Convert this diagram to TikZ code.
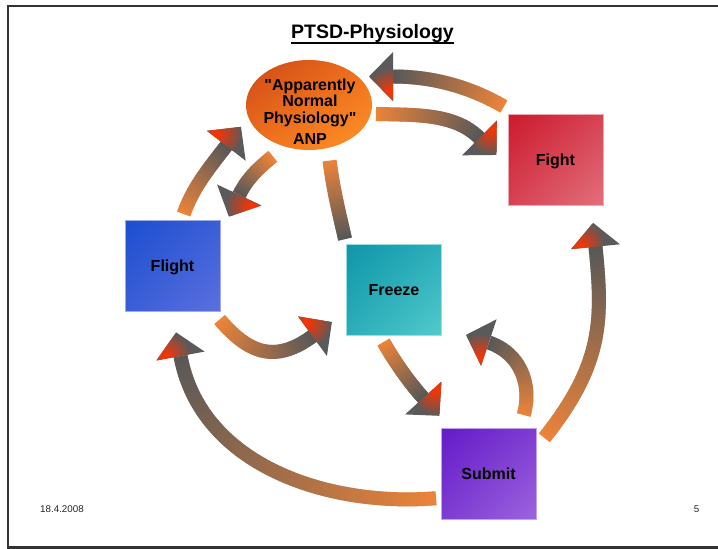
\documentclass[tikz,border=0pt]{standalone}
\usepackage{fontspec}
\setmainfont{Liberation Sans}
\usetikzlibrary{shapes.geometric,decorations.markings,shadings}

% arrow colours
\definecolor{shafto}{RGB}{236,132,58}
\definecolor{shaftg}{RGB}{88,88,88}
\definecolor{headg}{RGB}{90,90,90}
\definecolor{headr}{RGB}{255,50,0}
\definecolor{framegray}{RGB}{51,51,51}
% state colours: dark corner, middle, light corner
\definecolor{flightA}{RGB}{28,78,208}
\definecolor{flightB}{RGB}{58,94,214}
\definecolor{flightC}{RGB}{92,112,222}
\definecolor{freezeA}{RGB}{14,150,168}
\definecolor{freezeB}{RGB}{44,174,186}
\definecolor{freezeC}{RGB}{82,202,204}
\definecolor{fightA}{RGB}{204,26,44}
\definecolor{fightB}{RGB}{214,66,84}
\definecolor{fightC}{RGB}{226,112,122}
\definecolor{submitA}{RGB}{100,26,200}
\definecolor{submitB}{RGB}{126,60,210}
\definecolor{submitC}{RGB}{156,100,222}
\definecolor{anpA}{RGB}{204,72,20}
\definecolor{anpB}{RGB}{240,112,30}
\definecolor{anpC}{RGB}{255,148,38}

\begin{document}
\begin{tikzpicture}[x=1pt,y=-1pt,
  statebox/.style={rectangle, minimum width=95pt, minimum height=91pt,
    inner sep=0pt, outer sep=0pt, font=\bfseries\fontsize{16}{16}\selectfont,
    text height=11.5pt, text depth=0pt},
  cornershade/.style n args={3}{upper left=#1, upper right=#2,
    lower left=#2, lower right=#3},
  % shaft whose colour runs from orange at the tail to grey at the end
  gradshaft/.style={postaction={decorate, decoration={markings,
      mark=between positions 0 and 1 step 1.5pt with {%
        \pgfmathtruncatemacro\shaftmix{100-100*(\pgfkeysvalueof{/pgf/decoration/mark info/distance from start}/\pgfdecoratedpathlength)}%
        \fill[shafto!\shaftmix!shaftg] (-1.1pt,-7pt) rectangle (1.1pt,7pt);}}}},
  % broad triangular head with a red glow on its left back corner
  gradhead/.style={postaction={decorate, decoration={markings,
      mark=at position 0.9999 with {%
        \fill[headg] (0pt,-24.5pt) -- (24pt,0pt) -- (0pt,24.5pt) -- cycle;
        \begin{scope}
          \clip (0pt,-24.5pt) -- (24pt,0pt) -- (0pt,24.5pt) -- cycle;
          \shade[inner color=headr, outer color=headg] (3pt,15pt) circle (24pt);
        \end{scope}}}}},
  labelfont/.style={font=\bfseries\fontsize{16}{16.2}\selectfont, inner sep=0pt},
  footfont/.style={font=\fontsize{9.8}{10}\selectfont, inner sep=0pt, text=black!85}
]
\useasboundingbox (0,0) rectangle (718,549);
\fill[white] (0,0) rectangle (718,549);

% slide frame
\draw[framegray, line width=2.4pt] (718,6.2) -- (7.8,6.2) -- (7.8,547.6) -- (718,547.6);

% title
\node[font=\bfseries\fontsize{19.5}{20}\selectfont, inner sep=0pt, anchor=base]
  (title) at (372.5,38) {PTSD-Physiology};
\draw[line width=2.2pt] ([yshift=-5pt]title.base west) -- ([yshift=-5pt]title.base east);

% states
\node[ellipse, minimum width=126pt, minimum height=90pt, inner sep=0pt,
  cornershade={anpA}{anpB}{anpC}] (anp) at (309,105) {};
\node[labelfont, align=center, anchor=north] (anplabel) at (310,79)
  {\textquotedbl Apparently\\Normal\\Physiology\textquotedbl\\[5.4pt]ANP};

\node[statebox, cornershade={flightA}{flightB}{flightC}, draw=flightC!60!white, line width=0.8pt]
  (flight) at (172.5,266) {Flight};
\node[statebox, cornershade={freezeA}{freezeB}{freezeC}, draw=freezeC!60!white, line width=0.8pt]
  (freeze) at (394,290) {Freeze};
\node[statebox, cornershade={fightA}{fightB}{fightC}, draw=fightC!60!white, line width=0.8pt]
  (fight) at (555.5,159.5) {Fight};
\node[statebox, cornershade={submitA}{submitB}{submitC}, draw=submitC!60!white, line width=0.8pt]
  (submit) at (488.5,474) {Submit};

% ends of the curved arrows
\coordinate (fightOut)   at (503,106);   \coordinate (anpInR)    at (393,76.5);
\coordinate (anpOutR)    at (377,114);   \coordinate (fightIn)   at (479.5,138);
\coordinate (flightOutT) at (184,213);   \coordinate (anpInL)    at (226.3,145.8);
\coordinate (anpOutL)    at (272,157);   \coordinate (flightInT) at (239.2,195);
\coordinate (anpOutB)    at (329.7,161.7); \coordinate (freezeInT) at (345,238.8);
\coordinate (flightOutB) at (220.3,320.3); \coordinate (freezeInL) at (312.5,336.2);
\coordinate (freezeOut)  at (384,343);   \coordinate (submitIn)  at (423.3,398);
\coordinate (submitOutT) at (524,414);   \coordinate (freezeInR) at (488.8,342.5);
\coordinate (submitOutR) at (545,437);   \coordinate (fightInB)  at (595.5,246.7);
\coordinate (submitOutL) at (435,498.3); \coordinate (flightInB) at (180.5,356);

% arrows
\path[gradshaft, gradhead] (fightOut) .. controls (469,86.5) and (432,76.5) .. (anpInR);
\path[gradshaft, gradhead] (anpOutR) .. controls (417,115) and (455,113.5) .. (fightIn);
\path[gradshaft, gradhead] (flightOutT) .. controls (193.4,187) and (209.3,167.8) .. (anpInL);
\path[gradshaft, gradhead] (anpOutL) .. controls (258.5,168) and (246.8,179) .. (flightInT);
\path[gradshaft] (anpOutB) .. controls (333,188) and (339,213) .. (freezeInT);
\path[gradshaft, gradhead] (flightOutB) .. controls (249.6,354.5) and (276,362.8) .. (freezeInL);
\path[gradshaft, gradhead] (freezeOut) .. controls (395,362) and (408.6,381.7) .. (submitIn);
\path[gradshaft, gradhead] (submitOutT) .. controls (532.3,383.3) and (519.2,352.7) .. (freezeInR);
\path[gradshaft, gradhead] (submitOutR) .. controls (603.9,362.9) and (602.6,318) .. (fightInB);
\path[gradshaft, gradhead] (submitOutL) .. controls (325,507) and (200.3,463.8) .. (flightInB);

% footer
\node[footfont, anchor=base west] (date) at (40,512) {18.4.2008};
\node[footfont, anchor=base east] (page) at (699.5,512) {5};
\end{tikzpicture}
\end{document}
